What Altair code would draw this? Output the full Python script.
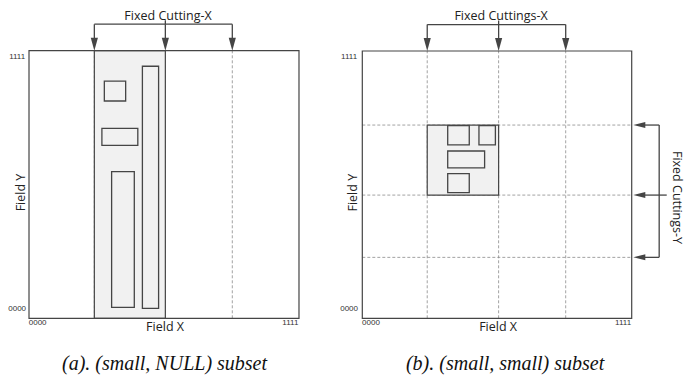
import altair as alt
import pandas as pd

# ---------------- data (field units: 0..100 across the 0000..1111 field) -------------
# Panel (a): (small, NULL) subset
cuts_a_x = [24.2, 50.5, 75.3]
shade_a = [24.2, 50.5, 0, 100]          # x, x2, y, y2
rects_a_x = [27.9, 27.0, 30.6, 42.0]
rects_a_x2 = [35.8, 40.3, 39.0, 48.0]
rects_a_y = [81.2, 64.6, 4.1, 3.7]
rects_a_y2 = [88.6, 71.0, 54.8, 94.2]

# Panel (b): (small, small) subset
cuts_b_x = [24.1, 50.6, 75.5]
cuts_b_y = [72.3, 46.1, 22.8]
shade_b = [24.1, 50.6, 46.1, 72.3]
rects_b_x = [31.7, 43.3, 31.7, 31.7]
rects_b_x2 = [39.7, 49.4, 45.4, 39.7]
rects_b_y = [64.9, 64.9, 56.3, 47.0]
rects_b_y2 = [72.1, 72.1, 62.6, 54.1]

bracket_top = 109.9
bracket_stem = 111.4
bracket_right_x = 110.2
bracket_right_stem = 113.0
arrow_tip_right = 100.6

titles = ["Fixed Cutting-X", "Fixed Cuttings-X", "Fixed Cuttings-Y"]
captions = ["(a). (small, NULL) subset", "(b). (small, small) subset"]
tick_lo, tick_hi = "0000", "1111"
axis_x_title, axis_y_title = "Field X", "Field Y"

LINE = "#454545"
DASH = "#8a8a8a"
SHADE = "#f1f1f1"
SANS = "Open Sans"
SERIF = "Liberation Serif"
DOWN = "M-0.55,-2L0.55,-2L0,0Z"
LEFT = "M0,0L2,-0.5L2,0.5Z"


def enc(xdom, ydom):
    xs = alt.Scale(domain=xdom, nice=False, zero=False)
    ys = alt.Scale(domain=ydom, nice=False, zero=False)
    return xs, ys


def rects_layer(df, xs, ys, fill, stroke, sw):
    return alt.Chart(df).mark_rect(fill=fill, stroke=stroke, strokeWidth=sw).encode(
        x=alt.X("x:Q", scale=xs, axis=None),
        x2="x2:Q",
        y=alt.Y("y:Q", scale=ys, axis=None),
        y2="y2:Q",
    )


def seg_layer(df, xs, ys, color, sw, dash=None):
    kw = dict(color=color, strokeWidth=sw)
    if dash:
        kw["strokeDash"] = dash
    return alt.Chart(df).mark_rule(**kw).encode(
        x=alt.X("x:Q", scale=xs, axis=None),
        x2="x2:Q",
        y=alt.Y("y:Q", scale=ys, axis=None),
        y2="y2:Q",
    )


def arrows_layer(df, xs, ys, shape, size):
    return alt.Chart(df).mark_point(
        shape=shape, filled=True, size=size, color=LINE, opacity=1, strokeWidth=0
    ).encode(
        x=alt.X("x:Q", scale=xs, axis=None),
        y=alt.Y("y:Q", scale=ys, axis=None),
    )


def text_layer(df, xs, ys, **mk):
    return alt.Chart(df).mark_text(**mk).encode(
        x=alt.X("x:Q", scale=xs, axis=None),
        y=alt.Y("y:Q", scale=ys, axis=None),
        text="t:N",
    )


def panel(xdom, ydom, width, cuts_x, cuts_y, shade, rx, rx2, ry, ry2,
          title, caption, right_bracket, ylab_x, tick_left_x, cap_x):
    xs, ys = enc(xdom, ydom)
    layers = []
    # white field
    layers.append(rects_layer(pd.DataFrame({"x": [0], "x2": [100], "y": [0], "y2": [100]}),
                              xs, ys, "white", LINE, 0))
    # dashed cuttings
    dv = pd.DataFrame({"x": cuts_x, "x2": cuts_x, "y": [0] * len(cuts_x), "y2": [100] * len(cuts_x)})
    layers.append(seg_layer(dv, xs, ys, DASH, 0.8, [3, 2]))
    if cuts_y:
        dh = pd.DataFrame({"x": [0] * len(cuts_y), "x2": [100] * len(cuts_y), "y": cuts_y, "y2": cuts_y})
        layers.append(seg_layer(dh, xs, ys, DASH, 0.8, [3, 2]))
    # shaded subset
    layers.append(rects_layer(pd.DataFrame({"x": [shade[0]], "x2": [shade[1]],
                                            "y": [shade[2]], "y2": [shade[3]]}),
                              xs, ys, SHADE, LINE, 1.2))
    # field border
    layers.append(rects_layer(pd.DataFrame({"x": [0], "x2": [100], "y": [0], "y2": [100]}),
                              xs, ys, "transparent", LINE, 1.2))
    # data rectangles
    layers.append(rects_layer(pd.DataFrame({"x": rx, "x2": rx2, "y": ry, "y2": ry2}),
                              xs, ys, "transparent", LINE, 1.3))
    # top bracket
    segs = [
        (cuts_x[0], cuts_x[-1], bracket_top, bracket_top),
        (cuts_x[1], cuts_x[1], bracket_top, bracket_stem),
    ] + [(c, c, 104, bracket_top) for c in cuts_x]
    if right_bracket:
        segs += [
            (bracket_right_x, bracket_right_x, cuts_y[-1], cuts_y[0]),
            (104.5, bracket_right_x, cuts_y[0], cuts_y[0]),
            (104.5, bracket_right_stem, cuts_y[1], cuts_y[1]),
            (104.5, bracket_right_x, cuts_y[2], cuts_y[2]),
        ]
    sdf = pd.DataFrame(segs, columns=["x", "x2", "y", "y2"])
    layers.append(seg_layer(sdf, xs, ys, LINE, 1.3))
    layers.append(arrows_layer(pd.DataFrame({"x": cuts_x, "y": [100] * 3}), xs, ys, DOWN, 169))
    if right_bracket:
        layers.append(arrows_layer(pd.DataFrame({"x": [arrow_tip_right] * 3, "y": cuts_y}),
                                   xs, ys, LEFT, 144))
        layers.append(text_layer(pd.DataFrame({"x": [116.9], "y": [45.2], "t": [titles[2]]}),
                                 xs, ys, font=SANS, fontSize=12.5, color="#222", angle=90))
    # top title
    layers.append(text_layer(pd.DataFrame({"x": [51.5], "y": [ydom[1] - 0.6], "t": [title]}),
                             xs, ys, font=SANS, fontSize=12.5, color="#222", baseline="top"))
    # axis titles
    layers.append(text_layer(pd.DataFrame({"x": [50.4], "y": [-3.4], "t": [axis_x_title]}),
                             xs, ys, font=SANS, fontSize=12.5, color="#222"))
    layers.append(text_layer(pd.DataFrame({"x": [ylab_x], "y": [47.0], "t": [axis_y_title]}),
                             xs, ys, font=SANS, fontSize=12.5, color="#222", angle=270))
    # tick labels
    tdf = pd.DataFrame({
        "x": [tick_left_x, tick_left_x, 3.2, 96.8],
        "y": [97.6, 3.5, -1.9, -1.9],
        "t": [tick_hi, tick_lo, tick_lo, tick_hi],
    })
    layers.append(text_layer(tdf, xs, ys, font="Liberation Sans", fontSize=8, color="#333"))
    # caption
    layers.append(text_layer(pd.DataFrame({"x": [cap_x], "y": [-19.3], "t": [caption]}),
                             xs, ys, font=SERIF, fontSize=20, fontStyle="italic", color="#111",
                             baseline="alphabetic"))
    return alt.layer(*layers).properties(width=width, height=367)


pa = panel([-7.78, 115.19], [-21.19, 115.96], 332, cuts_a_x, None, shade_a,
           rects_a_x, rects_a_x2, rects_a_y, rects_a_y2, titles[0], captions[0], False,
           -3.0, -4.4, 50.2)
pb = panel([-8.28, 122.01], [-21.21, 116.09], 351, cuts_b_x, cuts_b_y, shade_b,
           rects_b_x, rects_b_x2, rects_b_y, rects_b_y2, titles[1], captions[1], True,
           -3.5, -4.9, 53.0)

chart = alt.hconcat(pa, pb, spacing=0).resolve_scale(x="independent", y="independent").properties(
    padding=0
).configure_view(stroke=None)

chart.save("out.html", embed_options={"renderer": "svg", "actions": False})
